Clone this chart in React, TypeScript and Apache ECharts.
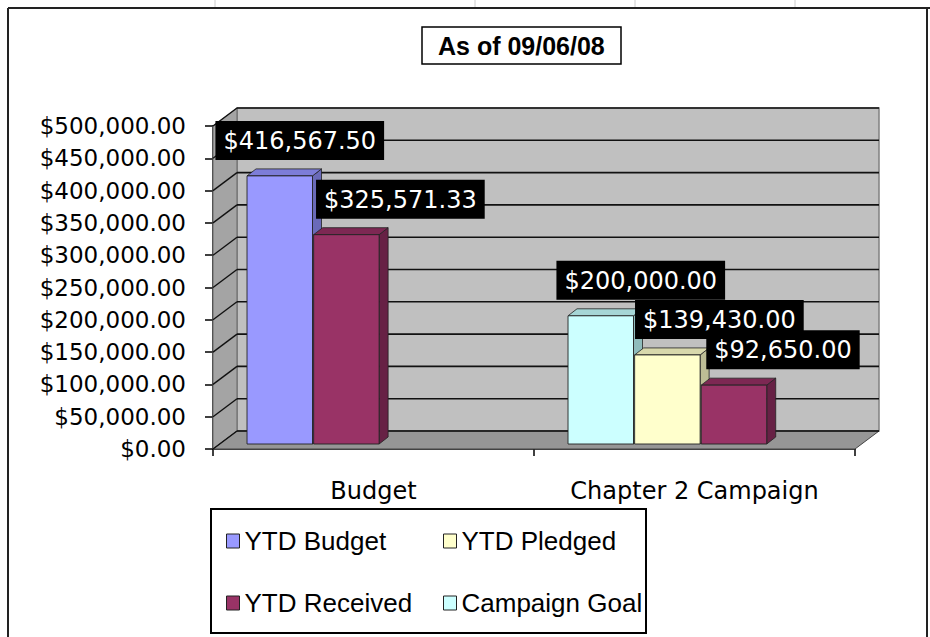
import React, { useEffect, useRef } from "react";
import * as echarts from "echarts";

// ---- data ----
const categories = ["Budget", "Chapter 2 Campaign"];
const seriesNames = ["YTD Budget", "YTD Pledged", "YTD Received", "Campaign Goal"];
const ytdBudget: (number | null)[] = [416567.5, null];
const ytdPledged: (number | null)[] = [null, 139430.0];
const ytdReceived: (number | null)[] = [325571.33, 92650.0];
const campaignGoal: (number | null)[] = [null, 200000.0];
const yTicks = [0, 50000, 100000, 150000, 200000, 250000, 300000, 350000, 400000, 450000, 500000];
// left-to-right order of the columns inside each category
const slotOrder = [
  ["YTD Budget", "YTD Received"],
  ["Campaign Goal", "YTD Pledged", "YTD Received"],
];
const titleText = "As of 09/06/08";

// ---- styles ----
const COLORS: Record<string, { face: string; top: string; side: string }> = {
  "YTD Budget": { face: "#9999FF", top: "#7d7dd8", side: "#6a6ab8" },
  "YTD Pledged": { face: "#FFFFCC", top: "#d8d8ac", side: "#bdbd95" },
  "YTD Received": { face: "#993366", top: "#7d2853", side: "#672145" },
  "Campaign Goal": { face: "#CCFFFF", top: "#a6d6d6", side: "#8fbcbc" },
};
const DEPTH = { dx: 24, dy: -18 };
const BAR_DEPTH = { dx: 9, dy: -7 };
// horizontal shift of a data label's centre from its column's centre (category-slot)
const LABEL_SHIFT: Record<string, number> = { "0-0": 20, "0-1": 54, "1-0": 40, "1-1": 52, "1-2": 49 };

const money = (v: number) => {
  const fixed = Math.abs(v).toFixed(2);
  const [i, d] = fixed.split(".");
  return "$" + i.replace(/\B(?=(\d{3})+(?!\d))/g, ",") + "." + d;
};

export default function App() {
  const ref = useRef<HTMLDivElement>(null);
  useEffect(() => {
    if (!ref.current) return;
    const chart = echarts.init(ref.current, undefined, { renderer: "svg" });
    const valuesByName: Record<string, (number | null)[]> = {
      "YTD Budget": ytdBudget,
      "YTD Pledged": ytdPledged,
      "YTD Received": ytdReceived,
      "Campaign Goal": campaignGoal,
    };

    const wallSeries: any = {
      type: "custom",
      name: "walls",
      z: 1,
      silent: true,
      data: [[0, 0]],
      encode: { x: 0, y: 1 },
      renderItem: (params: any, api: any) => {
        const cs = params.coordSys;
        const gx = cs.x;
        const gw = cs.width;
        const y0 = api.coord([0, 0])[1];
        const yTop = api.coord([0, yTicks[yTicks.length - 1]])[1];
        const { dx, dy } = DEPTH;
        const children: any[] = [
          {
            type: "rect",
            shape: { x: gx + dx, y: yTop + dy, width: gw, height: y0 - yTop },
            style: { fill: "#c0c0c0", stroke: "#808080", lineWidth: 1.5 },
          },
          {
            type: "polygon",
            shape: { points: [[gx, yTop], [gx + dx, yTop + dy], [gx + dx, y0 + dy], [gx, y0]] },
            style: { fill: "#a4a4a4", stroke: "#666", lineWidth: 1 },
          },
          {
            type: "polygon",
            shape: { points: [[gx, y0], [gx + gw, y0], [gx + gw + dx, y0 + dy], [gx + dx, y0 + dy]] },
            style: { fill: "#969696", stroke: "#444", lineWidth: 1 },
          },
        ];
        yTicks.forEach((v) => {
          const y = api.coord([0, v])[1];
          children.push({
            type: "line",
            shape: { x1: gx + dx, y1: y + dy, x2: gx + gw + dx, y2: y + dy },
            style: { stroke: "#111", lineWidth: 1.6 },
          });
          children.push({
            type: "line",
            shape: { x1: gx, y1: y, x2: gx + dx, y2: y + dy },
            style: { stroke: "#111", lineWidth: 1.4 },
          });
        });
        return { type: "group", children };
      },
    };

    const barSeries = seriesNames.map((name) => {
      const vals = valuesByName[name];
      const data: any[] = [];
      vals.forEach((v, i) => {
        if (v != null) data.push([i, v, slotOrder[i].indexOf(name)]);
      });
      const c = COLORS[name];
      return {
        type: "custom",
        name,
        z: 2,
        itemStyle: { color: c.face },
        encode: { x: 0, y: 1 },
        data,
        renderItem: (params: any, api: any) => {
          const cat = api.value(0);
          const val = api.value(1);
          const slot = api.value(2);
          const band = api.size([1, 0])[0];
          const center = api.coord([cat, 0])[0];
          const x0 = center - band * 0.394 + slot * band * 0.2075;
          const w = band * 0.204;
          const yb = api.coord([cat, 0])[1] - 5;
          const yt = api.coord([cat, val])[1] - 4;
          const { dx, dy } = BAR_DEPTH;
          const zb = cat * 10 + slot * 3;
          const shift = LABEL_SHIFT[cat + "-" + slot] ?? 48;
          return {
            type: "group",
            children: [
              {
                type: "polygon",
                z2: zb,
                shape: { points: [[x0 + w, yt], [x0 + w + dx, yt + dy], [x0 + w + dx, yb + dy], [x0 + w, yb]] },
                style: { fill: c.side, stroke: "#222", lineWidth: 0.8 },
              },
              {
                type: "polygon",
                z2: zb + 1,
                shape: { points: [[x0, yt], [x0 + dx, yt + dy], [x0 + w + dx, yt + dy], [x0 + w, yt]] },
                style: { fill: c.top, stroke: "#222", lineWidth: 0.8 },
              },
              {
                type: "rect",
                z2: zb + 2,
                shape: { x: x0, y: yt, width: w, height: yb - yt },
                style: { fill: c.face, stroke: "#222", lineWidth: 0.9 },
              },
              {
                type: "text",
                z2: 100 + zb,
                x: x0 + w / 2 + shift,
                y: yt - 16,
                style: {
                  text: money(val),
                  fill: "#fff",
                  fontSize: 24,
                  fontFamily: "DejaVu Sans",
                  backgroundColor: "#000",
                  padding: [8, 8, 7, 8],
                  align: "center",
                  verticalAlign: "bottom",
                },
              },
            ],
          };
        },
      };
    });

    const legendItem = (name: string) => ({
      name,
      itemStyle: { color: COLORS[name].face, borderColor: "#222", borderWidth: 1 },
    });
    const legendText = { fontFamily: "Liberation Sans", fontSize: 26, color: "#000", lineHeight: 30 };

    chart.setOption({
      animation: false,
      backgroundColor: "#ffffff",
      title: {
        text: titleText,
        left: 422,
        top: 27,
        padding: [6, 16],
        borderColor: "#000",
        borderWidth: 1.5,
        backgroundColor: "#fff",
        textStyle: { fontFamily: "Liberation Sans", fontWeight: "bold", fontSize: 25, color: "#000" },
      },
      grid: { left: 213, top: 126, width: 642, height: 323, containLabel: false },
      xAxis: {
        type: "category",
        data: categories,
        boundaryGap: true,
        axisLine: { show: true, lineStyle: { color: "#000", width: 1.5 } },
        axisTick: { show: true, interval: 0, length: 7, lineStyle: { color: "#000", width: 1.5 } },
        axisLabel: { interval: 0, hideOverlap: false, fontFamily: "DejaVu Sans", fontSize: 24, color: "#000", margin: 30 },
        splitLine: { show: false },
      },
      yAxis: {
        type: "value",
        min: 0,
        max: 500000,
        interval: 50000,
        axisLine: { show: true, lineStyle: { color: "#000", width: 1.5 } },
        axisTick: { show: true, length: 8, lineStyle: { color: "#000", width: 1.5 } },
        axisLabel: {
          fontFamily: "DejaVu Sans",
          fontSize: 23,
          color: "#000",
          margin: 27,
          formatter: (v: number) => money(v),
        },
        splitLine: { show: false },
      },
      legend: [
        {
          left: 226,
          top: 526,
          padding: 0,
          orient: "vertical",
          itemGap: 32,
          itemWidth: 13,
          itemHeight: 14,
          icon: "rect",
          selectedMode: false,
          data: [legendItem("YTD Budget"), legendItem("YTD Received")],
          textStyle: legendText,
        },
        {
          left: 443,
          top: 526,
          padding: 0,
          orient: "vertical",
          itemGap: 32,
          itemWidth: 13,
          itemHeight: 14,
          icon: "rect",
          selectedMode: false,
          data: [legendItem("YTD Pledged"), legendItem("Campaign Goal")],
          textStyle: legendText,
        },
      ],
      graphic: [
        { type: "rect", silent: true, shape: { x: 211, y: 509, width: 435, height: 124 }, style: { fill: "none", stroke: "#000", lineWidth: 2 } },
        { type: "line", silent: true, shape: { x1: 8, y1: 8, x2: 8, y2: 637 }, style: { stroke: "#222", lineWidth: 2 } },
        { type: "line", silent: true, shape: { x1: 8, y1: 8, x2: 930, y2: 8 }, style: { stroke: "#222", lineWidth: 2 } },
        { type: "line", silent: true, shape: { x1: 927, y1: 8, x2: 927, y2: 637 }, style: { stroke: "#222", lineWidth: 2 } },
        { type: "line", silent: true, shape: { x1: 215, y1: 0, x2: 215, y2: 7 }, style: { stroke: "#ccc", lineWidth: 1 } },
        { type: "line", silent: true, shape: { x1: 475, y1: 0, x2: 475, y2: 7 }, style: { stroke: "#ccc", lineWidth: 1 } },
        { type: "line", silent: true, shape: { x1: 635, y1: 0, x2: 635, y2: 7 }, style: { stroke: "#ccc", lineWidth: 1 } },
        { type: "line", silent: true, shape: { x1: 795, y1: 0, x2: 795, y2: 7 }, style: { stroke: "#ccc", lineWidth: 1 } },
      ],
      series: [wallSeries, ...barSeries],
    });
    return () => chart.dispose();
  }, []);
  return (
    <div
      ref={ref}
      style={{ position: "absolute", left: 0, top: 0, width: 930, height: 637, background: "#fff" }}
    />
  );
}
